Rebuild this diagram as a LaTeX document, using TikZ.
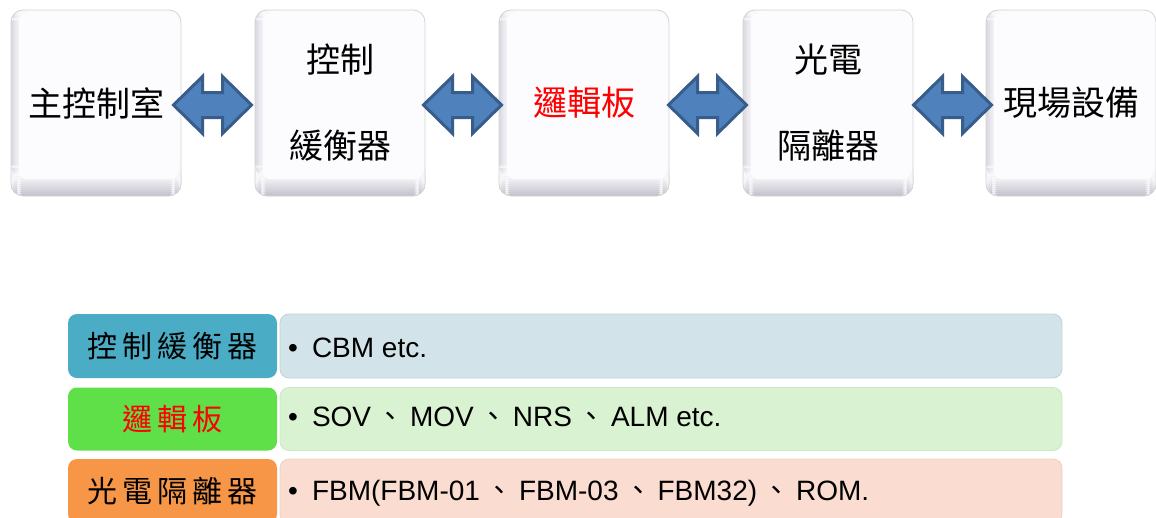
\documentclass[tikz,border=0pt]{standalone}
\usepackage{fontspec}
\setmainfont{Liberation Sans}
\newfontfamily\cjk{Noto Sans CJK TC}
\newfontfamily\cjksp[LetterSpace=16]{Noto Sans CJK TC}
\usetikzlibrary{calc}
\definecolor{arrowfill}{HTML}{4F81BD}
\definecolor{arrowline}{HTML}{385D8A}
\definecolor{labA}{HTML}{4BACC6}
\definecolor{bgA}{HTML}{D2E4EA}
\definecolor{labB}{HTML}{5FDF48}
\definecolor{bgB}{HTML}{D8F2D2}
\definecolor{labC}{HTML}{F79646}
\definecolor{bgC}{HTML}{FADCD0}
\definecolor{bevel}{HTML}{C4C4CE}
\definecolor{bevelL}{HTML}{D8D8E0}
\definecolor{face}{HTML}{FCFCFE}
\newcommand{\blockarrow}[1]{%
  \draw[blockarrow] ([shift={(-39,0)}]#1) -- ([shift={(-10,-28.5)}]#1) -- ([shift={(-10,-12.5)}]#1)
    -- ([shift={(10,-12.5)}]#1) -- ([shift={(10,-28.5)}]#1) -- ([shift={(39,0)}]#1)
    -- ([shift={(10,28.5)}]#1) -- ([shift={(10,12.5)}]#1) -- ([shift={(-10,12.5)}]#1)
    -- ([shift={(-10,28.5)}]#1) -- cycle;}
\newcommand{\cm}{\hspace{5.5pt}{\cjk 、}\hspace{5.5pt}}
\begin{document}
\begin{tikzpicture}[x=1pt,y=-1pt,
  topbox/.style={rounded corners=12pt, fill=face, draw=black!17, line width=0.8pt,
    minimum width=170pt, minimum height=186pt, inner sep=0pt,
    font=\fontsize{34}{86}\selectfont\cjk, align=center,
    path picture={
      \foreach \i [evaluate=\i as \p using int(100-10*\i)] in {0,...,9} {
        \fill[bevel!\p!face] ([yshift=\i*2pt]path picture bounding box.south west)
          rectangle ([yshift=\i*2pt+2.2pt]path picture bounding box.south east);
        \fill[bevelL!\p!face] ([xshift=\i*1pt,yshift=20pt]path picture bounding box.south west)
          rectangle ([xshift=\i*1pt+1.2pt]path picture bounding box.north west);
      }
      \fill[face, rounded corners=7pt]
        ([xshift=8pt,yshift=-3pt]path picture bounding box.north west) rectangle
        ([xshift=-3pt,yshift=17pt]path picture bounding box.south east);
    }},
  blockarrow/.style={fill=arrowfill, draw=arrowline, line width=3pt, line join=miter},
  labbox/.style={rounded corners=9pt, minimum width=209pt, minimum height=#1, inner sep=0pt,
    font=\fontsize{30}{36}\selectfont\cjksp},
  rowbox/.style={rounded corners=9pt, minimum width=782pt, minimum height=#1, inner sep=0pt, line width=0.8pt},
  rowtext/.style={anchor=base west, inner sep=0pt, font=\fontsize{28}{34}\selectfont},
]
\useasboundingbox (0,0) rectangle (1156,517);
\clip (0,0) rectangle (1156,517);
\fill[white] (0,0) rectangle (1156,517);

% top chain
\node[topbox] (b1) at (96,103) {主控制室};
\node[topbox] (b2) at (340,103) {控制\\緩衡器};
\node[topbox, text=red] (b3) at (584,103) {邏輯板};
\node[topbox] (b4) at (828,103) {光電\\隔離器};
\node[topbox] (b5) at (1071,103) {現場設備};

\coordinate (a1) at (212.5,105);
\coordinate (a2) at (462.5,105);
\coordinate (a3) at (707.5,105);
\coordinate (a4) at (952.5,105);
\blockarrow{a1}
\blockarrow{a2}
\blockarrow{a3}
\blockarrow{a4}

% table rows
\node[rowbox=64pt, fill=bgA, draw=bgA!92!black] (r1) at (671,346) {};
\node[rowbox=63pt, fill=bgB, draw=bgB!95!black] (r2) at (671,419) {};
\node[rowbox=64pt, fill=bgC, draw=bgC!95!black] (r3) at (671,491) {};

\node[labbox=64pt, fill=labA] (l1) at (172.5,346) {控制緩衡器};
\node[labbox=63pt, fill=labB, text=red] (l2) at (172.5,419) {邏輯板};
\node[labbox=64pt, fill=labC] (l3) at (172.5,491) {光電隔離器};

\node[rowtext] (t1) at (288,357) {\textbullet\hspace{14pt}CBM etc.};
\node[rowtext] (t2) at (288,426) {\textbullet\hspace{14pt}SOV\cm MOV\cm NRS\cm ALM etc.};
\node[rowtext] (t3) at (288,500) {\textbullet\hspace{14pt}FBM(FBM-01\cm FBM-03\cm FBM32)\cm ROM.};
\end{tikzpicture}
\end{document}
